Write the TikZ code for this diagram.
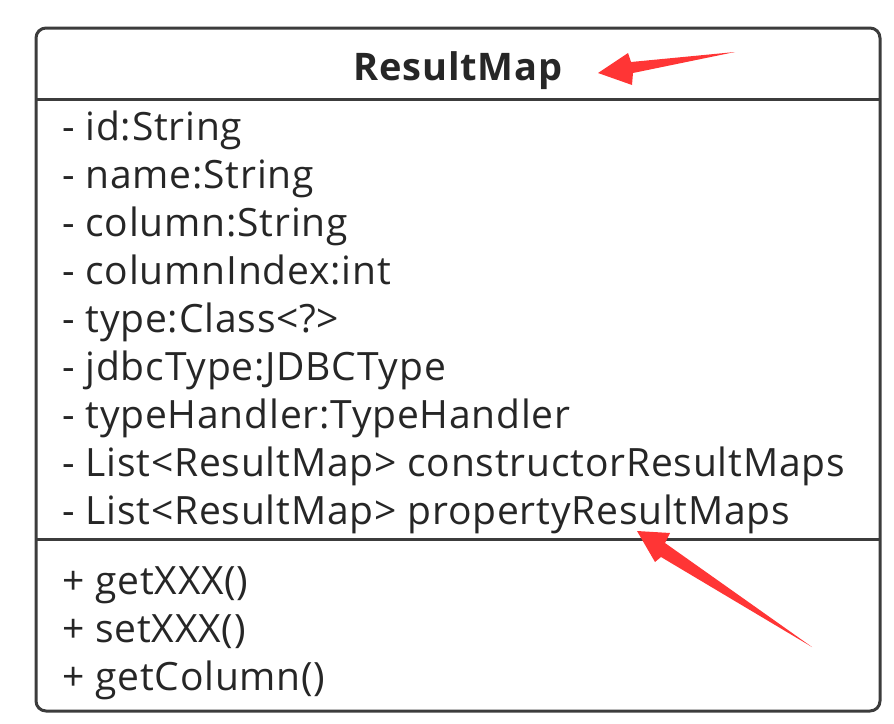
\documentclass[tikz,border=0pt]{standalone}
\usepackage{fontspec}
\setmainfont{Open Sans}[LetterSpace=2]
\definecolor{boxline}{HTML}{3C3C3C}
\definecolor{marker}{HTML}{FF3535}
\tikzset{
  member/.style={anchor=base west, inner sep=0, font=\fontsize{39}{39}\selectfont, text=black!85},
  classname/.style={anchor=base, inner sep=0, font=\fontsize{38}{38}\selectfont\bfseries, text=black!85},
  pointer/.style={fill=marker, draw=none}
}
\begin{document}
\begin{tikzpicture}[x=1pt, y=-1pt]
\useasboundingbox (0, 0) rectangle (894, 723);
\draw[boxline, line width=3, rounded corners=10] (36, 28) rectangle (880, 711);
\draw[boxline, line width=3] (36, 99) -- (880, 99);
\draw[boxline, line width=3] (36, 539) -- (880, 539);

\node[classname] (name) at (458, 80) {ResultMap};

\node[member] (a1) at (62, 140) {- id:String};
\node[member] (a2) at (62, 188) {- name:String};
\node[member] (a3) at (62, 236) {- column:String};
\node[member] (a4) at (62, 284) {- columnIndex:int};
\node[member] (a5) at (62, 332) {- type:Class<?>};
\node[member] (a6) at (62, 380) {- jdbcType:JDBCType};
\node[member] (a7) at (62, 428) {- typeHandler:TypeHandler};
\node[member] (a8) at (62, 476) {- List<ResultMap> constructorResultMaps};
\node[member] (a9) at (62, 524) {- List<ResultMap> propertyResultMaps};

\node[member] (m1) at (62, 594) {+ getXXX()};
\node[member] (m2) at (62, 642) {+ setXXX()};
\node[member] (m3) at (62, 690) {+ getColumn()};

% red pointers
\fill[pointer] (598, 73) -- (628, 53) -- (631, 62) -- (735, 52) -- (633, 73) -- (632, 85) -- cycle;
\fill[pointer] (637, 531) -- (670, 533) -- (665, 543) -- (812, 647) -- (661, 557) -- (655, 562) -- cycle;
\end{tikzpicture}
\end{document}
